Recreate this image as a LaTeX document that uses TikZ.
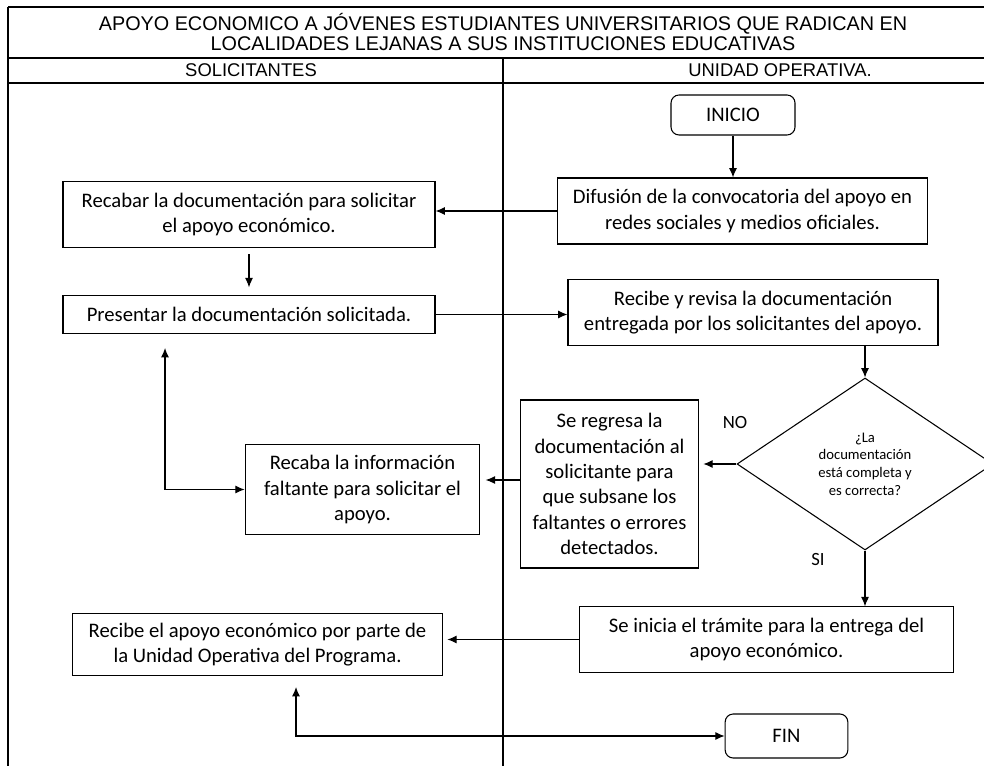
\documentclass[tikz,border=0pt]{standalone}
\usepackage{fontspec}
\setmainfont{Carlito}
\newfontfamily\titlefont{Liberation Sans}
\usetikzlibrary{shapes.geometric,positioning,arrows.meta}
\tikzset{>={Latex[length=7pt,width=6pt]}}
\tikzset{
  caja/.style={draw, line width=0.8pt, inner sep=0pt, align=center, font=\fontsize{15.5}{19}\selectfont},
  terminal/.style={caja, rounded corners=6pt},
  decision/.style={draw, diamond, line width=0.8pt, inner sep=0pt, aspect=1.49, align=center, font=\fontsize{11}{13.3}\selectfont},
  encabezado/.style={font=\titlefont\fontsize{14.85}{15}\selectfont, align=center},
  carril/.style={font=\titlefont\fontsize{13.8}{15}\selectfont},
  etiqueta/.style={font=\fontsize{14}{16}\selectfont}
}

\begin{document}
\begin{tikzpicture}[x=0.75pt, y=-0.75pt, line width=0.8pt]
      \useasboundingbox (0,0) rectangle (984,766);
      % marco y carriles
      \draw (8,7) -- (984,7);
      \draw (8,58) -- (984,58);
      \draw (8,83) -- (984,83);
      \draw (8,7) -- (8,766);
      \draw (503,58) -- (503,766);
      \node[encabezado] (titulo) at (503,32) {APOYO ECONOMICO A JÓVENES ESTUDIANTES UNIVERSITARIOS QUE RADICAN EN\\LOCALIDADES LEJANAS A SUS INSTITUCIONES EDUCATIVAS};
      \node[carril] (sol) at (251,70.5) {SOLICITANTES};
      \node[carril] (uni) at (780,70.5) {UNIDAD OPERATIVA.};

      \node[terminal, minimum width=93pt, minimum height=30pt] (inicio) at (733,115) {INICIO};
      \node[caja, minimum width=278pt, minimum height=49.5pt] (difusion) at (742.5,211) {Difusión de la convocatoria del apoyo en\\redes sociales y medios oficiales.};
      \node[caja, minimum width=279pt, minimum height=49pt] (recabar) at (249,214.5) {Recabar la documentación para solicitar\\el apoyo económico.};
      \node[caja, minimum width=279pt, minimum height=28pt, below of=recabar, node distance=75pt] (presentar) {Presentar la documentación solicitada.};
      \node[caja, minimum width=277.5pt, minimum height=49pt] (recibe) at (753,312.5) {Recibe y revisa la documentación\\entregada por los solicitantes del apoyo.};
      \node[decision, minimum width=192pt, minimum height=129pt] (pregunta) at (865,464) {¿La\\documentación\\está completa y\\es correcta?};
      \node[caja, minimum width=134pt, minimum height=126pt] (regresa) at (609.5,484) {Se regresa la\\documentación al\\solicitante para\\que subsane los\\faltantes o errores\\detectados.};
      \node[caja, minimum width=176pt, minimum height=67pt] (recaba) at (362.5,489.5) {Recaba la información\\faltante para solicitar el\\apoyo.};
      \node[caja, minimum width=280pt, minimum height=49pt] (tramite) at (766.5,639.5) {Se inicia el trámite para la entrega del\\apoyo económico.};
      \node[caja, minimum width=278pt, minimum height=46pt] (entrega) at (257.5,644.5) {Recibe el apoyo económico por parte de\\la Unidad Operativa del Programa.};
      \node[terminal, minimum width=92pt, minimum height=33pt] (fin) at (786.5,736) {FIN};
      \node[etiqueta] (no) at (735,423) {NO};
      \node[etiqueta] (si) at (818,560) {SI};
      \coordinate (c1) at (165,348);
      \coordinate (c2) at (296,687);

      \draw[->] (inicio) -- (inicio |- difusion.north);
      \draw[->] (difusion.west) -- (difusion.west -| recabar.east);
      \draw[->, shorten <=5pt, shorten >=6pt] (recabar) -- (presentar);
      \draw[->] (presentar.east) -- (presentar.east -| recibe.west);
      \draw[->] (pregunta.north |- recibe.south) -- (pregunta.north);
      \draw[->, shorten >=3pt] (pregunta.west) -- (pregunta.west -| regresa.east);
      \draw[->, shorten >=4pt] (regresa.west |- 0,480) -- (recaba.east |- 0,480);
      \draw[<->] (c1) |- (recaba.west);
      \draw[->] (pregunta.south) -- (pregunta.south |- tramite.north);
      \draw[->, shorten >=3pt] (tramite.west) -- (tramite.west -| entrega.east);
      \draw[<->] (c2) |- (fin.west);
\end{tikzpicture}
\end{document}
